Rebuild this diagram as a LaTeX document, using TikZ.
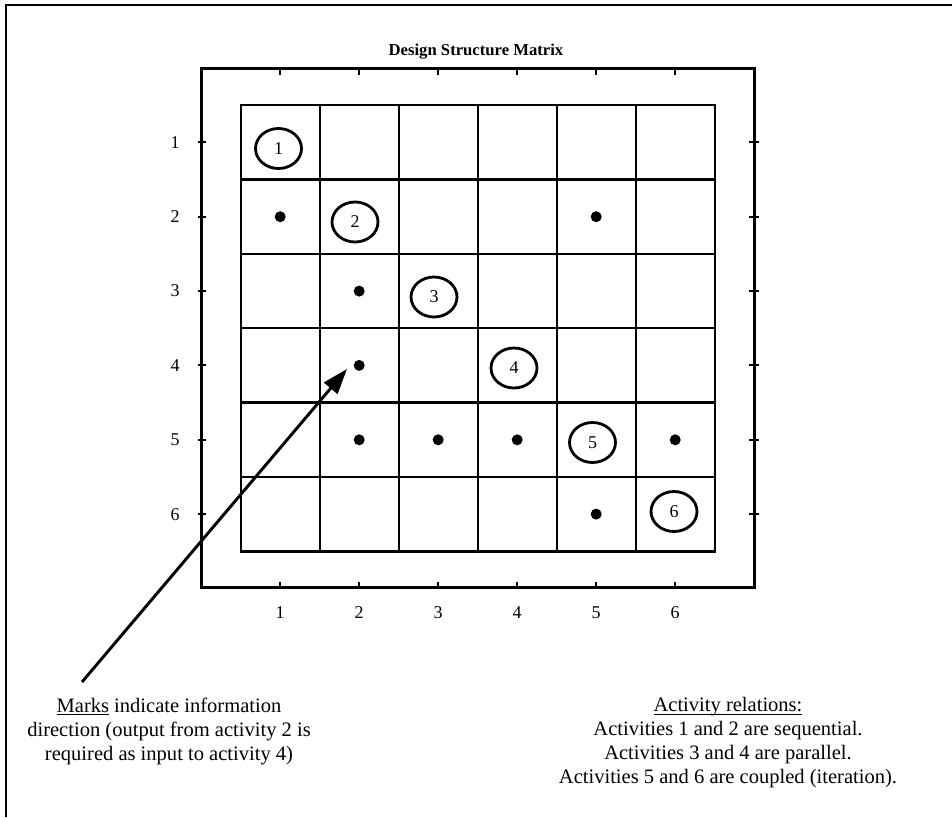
\documentclass[tikz,border=0pt]{standalone}
\usepackage{fontspec}
\setmainfont{Liberation Serif}
\usetikzlibrary{arrows.meta,shapes.geometric}
\newcommand\ulbase[1]{\setbox0\hbox{#1}\rlap{\rule[-2.2pt]{\wd0}{1pt}}\box0\relax}
\begin{document}
\begin{tikzpicture}[x=0.75pt,y=-0.75pt,
  border/.style={line width=2pt},
  frame/.style={line width=2.1pt},
  gridline/.style={line width=1.8pt},
  tick/.style={line width=1.6pt},
  act/.style={draw, ellipse, line width=2.1pt, minimum width=34.5pt, minimum height=30pt, inner sep=0pt, font=\fontsize{13.5}{16}\selectfont},
  dot/.style={circle, fill=black, minimum size=8.25pt, inner sep=0pt},
  lab/.style={inner sep=0pt, font=\fontsize{13.5}{16}\selectfont},
  note/.style={inner sep=0pt, align=center, font=\fontsize{15.4}{18}\selectfont},
  arrowline/.style={line width=2.2pt, -{Triangle[length=19pt,width=13pt]}}
]
\path[use as bounding box] (0,0) rectangle (952,817);
\draw[border] (6,817) -- (6,5) -- (952,5);
\node[font=\fontsize{12.5}{15}\selectfont\bfseries] (title) at (476,52) {Design Structure Matrix};
\draw[frame] (201.5,68.7) rectangle (754.7,587.5);
\draw[gridline] (240.7,105.2) rectangle (714.8,551.3);
\foreach \i in {1,...,5} {
  \draw[gridline] ({240.7+79*\i},105.2) -- ({240.7+79*\i},551.3);
  \draw[gridline] (240.7,{105.2+74.35*\i}) -- (714.8,{105.2+74.35*\i});
}
\foreach \i in {1,...,6} {
  \pgfmathsetmacro\cx{240.7+79*(\i-0.5)}
  \pgfmathsetmacro\cy{105.2+74.35*(\i-0.5)}
  \draw[tick] (\cx,68.7) -- ++(0,6);
  \draw[tick] (\cx,587.5) -- ++(0,-6);
  \draw[tick] (198,\cy) -- (206,\cy);
  \draw[tick] (749,\cy) -- (759,\cy);
  \node[lab] (r\i) at (175,\cy) {\i};
  \node[lab] (c\i) at (\cx,613) {\i};
}
\node[act] (a1) at (278.5,148.5) {1};
\node[act] (a2) at (355,222) {2};
\node[act] (a3) at (434,297) {3};
\node[act] (a4) at (514,368) {4};
\node[act] (a5) at (592.5,442.5) {5};
\node[act] (a6) at (674,511.5) {6};
\node[dot] (d21) at (280.2,216.7) {};
\node[dot] (d25) at (596.2,216.7) {};
\node[dot] (d32) at (359.2,291.1) {};
\node[dot] (d42) at (359.2,365.4) {};
\node[dot] (d52) at (359.2,439.8) {};
\node[dot] (d53) at (438.2,439.8) {};
\node[dot] (d54) at (517.2,439.8) {};
\node[dot] (d56) at (675.2,439.8) {};
\node[dot] (d65) at (596.2,514.1) {};
\coordinate (tail) at (82,682);
\coordinate (tip) at (347,369);
\draw[arrowline] (tail) -- (tip);
\node[note] (marks) at (169,731) {\ulbase{Marks} indicate information\\direction (output from activity 2 is\\required as input to activity 4)};
\node[note] (rel) at (728,743) {\ulbase{Activity relations:}\\Activities 1 and 2 are sequential.\\Activities 3 and 4 are parallel.\\Activities 5 and 6 are coupled (iteration).};
\end{tikzpicture}
\end{document}
